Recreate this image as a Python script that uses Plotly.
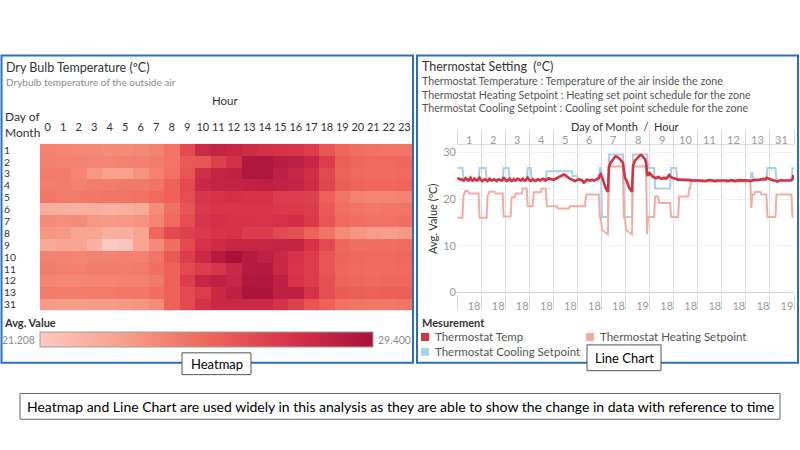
import plotly.graph_objects as go

# ---------------- data ----------------
hours = list(range(24))
hour_labels = [str(h) for h in hours]
days = ['1', '2', '3', '4', '5', '6', '7', '8', '9', '10', '11', '12', '13', '31']

# Dry bulb temperature, rows = day, cols = hour
dry_bulb = [
    [24.3,24.2,24.1,24.1,24.0,24.0,24.1,24.3,24.8,26.4,27.9,28.3,28.1,27.8,27.6,27.5,27.3,27.0,26.0,25.3,25.0,24.9,24.8,24.8],
    [24.4,24.3,24.3,24.2,24.2,24.3,24.4,24.5,24.8,25.8,25.9,26.8,27.6,29.0,29.1,28.7,28.6,28.2,27.0,25.6,25.3,25.2,25.2,25.3],
    [24.6,24.5,24.2,23.6,23.2,23.2,23.7,24.3,24.9,26.0,27.7,28.3,28.4,29.1,29.1,28.5,28.2,27.7,26.5,25.4,25.2,25.1,25.1,25.2],
    [24.5,24.5,24.4,24.5,24.5,24.6,24.6,24.8,25.5,26.5,28.0,28.3,28.3,28.4,28.5,28.4,28.3,27.8,26.6,25.6,25.4,25.3,25.3,25.4],
    [24.7,24.6,24.6,24.7,24.8,24.8,24.9,25.2,25.5,26.3,27.3,27.5,27.6,27.5,27.5,27.0,27.0,26.8,25.5,24.8,24.3,24.2,24.2,24.3],
    [22.6,22.5,22.4,22.5,22.4,22.5,22.8,24.0,25.0,26.0,27.2,27.3,27.3,27.4,27.3,27.2,27.2,27.0,25.8,25.0,24.8,24.7,24.8,24.8],
    [24.0,23.9,24.0,23.6,23.5,23.6,23.7,24.2,25.2,26.3,27.4,27.6,27.5,27.5,27.4,27.5,27.7,27.2,26.0,25.2,25.0,24.9,24.9,25.0],
    [23.6,23.5,23.0,23.0,22.5,22.5,23.0,25.3,26.5,26.8,27.2,27.4,27.5,27.0,27.0,26.5,26.2,25.5,24.8,24.0,23.6,23.4,23.3,23.5],
    [22.8,23.0,23.0,22.4,21.208,21.4,23.0,24.0,25.0,26.5,27.5,27.8,28.2,28.2,28.2,28.3,28.3,27.5,26.5,25.3,25.0,25.0,25.0,25.1],
    [24.3,24.3,24.2,24.3,24.3,24.4,24.4,24.8,25.8,27.0,28.0,28.8,29.4,28.8,28.5,28.0,27.5,27.0,26.0,25.4,25.3,25.2,25.2,25.3],
    [24.5,24.4,24.4,24.5,24.5,24.5,24.6,25.0,25.5,26.5,27.0,27.3,28.0,28.8,28.9,28.0,27.3,27.0,26.0,25.3,25.2,25.1,25.1,25.2],
    [24.2,24.1,24.1,24.2,24.2,24.3,24.3,24.6,25.5,27.0,28.2,28.5,28.2,29.0,29.1,28.5,27.5,27.0,26.2,25.4,25.3,25.2,25.3,25.3],
    [24.6,24.5,24.5,24.6,24.6,24.7,24.7,25.0,25.5,26.5,27.0,28.0,28.5,29.2,29.2,28.5,28.5,27.5,26.3,25.7,25.6,25.5,25.6,25.6],
    [23.4,23.3,23.3,23.4,23.4,23.5,23.6,24.0,25.5,26.5,27.5,28.0,28.0,28.0,28.0,27.5,26.8,26.0,25.5,24.9,24.8,24.7,24.7,24.8],
]
dry_min_label = '21.208'
dry_max_label = '29.400'

# Line chart bottom tick labels (one per day panel)
bottom_labels = ['18', '18', '18', '18', '18', '18', '18', '19', '18', '18', '18', '18', '18', '19']

thermostat_temp = [
    [24.6,24.4,24.3,24.2,24.3,24.1,24.0,24.2,24.5,24.3,24.1,24.0,24.3,24.6,24.2,24.0,24.1,24.4,24.2,24.0,24.1,24.3,24.6,24.2],
    [24.0,23.9,24.1,24.3,24.2,24.0,23.9,24.1,24.4,24.2,24.0,24.1,24.3,24.2,24.0,23.9,24.1,24.3,24.2,24.1,24.0,24.2,24.7,24.3],
    [24.1,23.9,24.0,24.2,24.4,24.1,23.9,24.0,24.3,24.1,24.0,24.2,24.4,24.3,24.1,24.0,24.2,24.4,24.1,24.0,24.1,24.3,24.6,24.2],
    [24.0,23.9,24.1,24.3,24.1,24.0,23.9,24.1,24.3,24.2,24.0,24.1,24.2,24.4,24.3,24.1,24.0,24.2,24.4,24.5,24.4,24.3,24.2,24.2],
    [24.2,24.3,24.4,24.5,24.6,24.7,24.8,24.9,25.0,25.1,25.3,25.2,25.0,24.8,24.6,24.5,24.4,24.3,24.2,24.1,24.0,23.9,24.0,24.1],
    [24.2,24.3,24.2,24.1,24.0,23.9,23.6,23.7,24.0,24.2,24.1,24.0,24.0,24.1,24.2,24.1,24.0,24.1,24.2,24.3,24.4,24.6,25.2,25.4],
    [24.8,24.0,23.3,22.7,22.2,21.9,21.6,27.0,27.8,28.0,28.2,28.5,28.9,29.1,29.2,29.1,29.0,28.8,28.6,28.4,28.2,27.8,26.0,24.5],
    [24.3,23.6,23.0,22.6,22.2,21.9,21.6,27.2,27.8,28.3,28.5,28.8,29.0,29.2,29.4,29.5,29.3,29.0,28.8,28.6,27.8,25.5,25.0,25.8],
    [25.5,25.2,25.0,24.8,24.7,24.6,24.5,24.6,24.8,24.7,24.5,24.4,24.4,24.5,24.6,24.5,24.4,24.6,25.1,25.2,24.9,24.7,24.6,24.5],
    [24.5,24.4,24.3,24.3,24.2,24.2,24.2,24.1,24.1,24.2,24.2,24.1,24.1,24.1,24.2,24.2,24.1,24.1,24.0,24.0,24.0,24.1,24.1,24.1],
    [24.0,24.0,24.1,24.1,24.0,23.9,23.9,23.8,23.9,24.0,24.1,24.1,24.1,24.0,24.0,24.0,23.9,23.9,24.0,24.0,24.1,24.1,24.1,24.0],
    [24.0,24.1,24.1,24.0,24.0,23.9,23.9,24.0,24.0,24.1,24.1,24.0,23.9,23.9,24.0,24.0,24.1,24.1,24.1,24.0,24.0,24.0,24.1,24.1],
    [24.1,24.1,24.0,24.0,23.9,23.9,24.0,24.1,24.1,24.2,24.2,24.1,24.1,24.2,24.2,24.3,24.3,24.2,24.2,24.3,24.6,24.5,24.4,24.4],
    [24.3,24.2,24.1,24.0,24.0,23.9,23.9,23.8,23.9,24.0,24.1,24.1,24.0,24.0,24.0,23.9,23.9,24.0,24.0,24.0,24.1,24.1,24.3,25.2],
]

heating_setpoint = [
    [16.0,16.0,16.0,16.0,16.0,16.0,20.8,21.4,21.8,21.8,21.8,21.6,21.2,21.2,21.2,21.2,21.2,21.2,21.2,21.2,21.2,21.2,16.0,16.0],
    [16.0,16.0,16.0,16.0,16.0,16.0,20.8,21.0,21.6,21.6,21.6,21.6,21.6,21.6,21.2,21.2,21.2,21.2,21.2,21.2,21.2,21.2,16.3,16.3],
    [16.3,16.3,16.3,16.3,16.3,16.3,20.4,20.4,20.4,20.4,21.2,21.2,21.2,21.2,21.2,21.2,21.2,22.3,22.3,22.3,22.3,22.3,18.5,18.5],
    [18.5,18.5,18.5,18.5,21.5,21.5,21.5,21.5,21.5,21.5,21.5,21.5,22.3,22.3,22.3,22.3,22.3,18.5,18.5,18.5,18.5,18.5,18.5,18.5],
    [18.5,18.5,18.5,18.5,18.0,18.0,18.0,18.0,18.0,18.0,18.0,18.0,18.0,18.0,18.0,18.0,18.5,18.5,18.5,18.5,18.5,18.5,18.5,18.5],
    [18.5,18.5,18.5,18.5,18.5,18.5,18.5,18.5,20.6,21.0,21.0,21.0,21.0,21.0,21.0,21.0,21.0,21.0,21.0,21.0,21.0,21.0,16.0,16.0],
    [13.4,13.2,13.0,12.9,12.8,12.6,12.5,27.0,27.0,27.0,27.0,27.0,27.0,27.0,27.0,27.0,27.0,27.0,27.0,27.0,27.0,27.0,16.0,16.0],
    [13.4,13.2,13.0,12.9,12.8,12.6,12.5,27.0,27.0,27.0,27.0,27.0,27.0,27.0,27.0,27.0,27.0,27.0,27.0,27.0,27.0,12.5,16.2,16.2],
    [16.2,16.2,16.2,16.2,16.2,20.6,20.6,20.6,20.6,19.2,19.2,19.2,19.2,19.2,19.2,19.2,19.2,19.2,19.2,19.2,19.2,16.2,16.2,16.2],
    [16.2,16.2,16.2,16.2,16.2,20.6,20.6,20.6,20.6,20.6,20.6,20.6,20.6,20.6,20.6,22.3,22.3,24.0,24.0,24.0,24.0,24.0,24.0,24.0],
    [23.8,23.8,23.8,23.8,23.8,23.8,23.8,23.8,23.8,23.8,23.8,23.8,23.8,23.8,23.8,23.8,23.8,23.8,23.8,23.8,23.8,23.8,23.8,23.8],
    [23.8,23.8,23.8,23.8,23.8,23.8,23.8,23.8,23.8,23.8,23.8,23.8,23.8,23.8,23.8,23.8,23.8,23.8,23.8,23.8,23.8,23.8,23.8,23.8],
    [23.8,23.8,23.8,23.8,23.8,18.1,21.0,21.0,21.0,21.6,21.6,21.6,21.6,21.6,21.6,21.0,21.0,21.0,21.0,21.0,21.0,16.2,16.2,16.2],
    [16.2,16.2,16.2,16.2,16.2,16.2,21.0,21.0,21.0,21.0,21.0,21.0,21.0,21.0,21.0,21.0,21.0,21.0,21.0,21.0,21.0,21.0,16.2,16.2],
]

cooling_setpoint = [
    [26.7,26.7,26.7,26.7,26.7,26.7,24.0,24.0,24.0,24.0,24.0,24.0,24.0,24.0,24.0,24.0,24.0,24.0,24.0,24.0,24.0,24.0,26.7,26.7],
    [26.7,26.7,26.7,26.7,26.7,24.0,24.0,24.0,24.0,24.0,24.0,24.0,24.0,24.0,24.0,24.0,24.0,24.0,24.0,24.0,24.0,24.0,26.7,26.7],
    [26.7,26.7,26.7,26.7,24.0,24.0,24.0,24.0,24.0,24.0,24.0,24.0,24.0,24.0,24.0,24.0,24.0,24.0,24.0,24.0,24.0,24.0,26.7,26.7],
    [26.7,26.7,24.0,24.0,24.0,24.0,24.0,24.0,24.0,24.0,24.0,24.0,24.0,24.0,24.0,24.0,24.0,26.0,26.0,26.0,26.0,26.0,26.0,26.0],
    [26.0,26.0,26.0,26.0,26.0,26.0,26.0,26.0,26.0,26.0,26.0,26.0,26.0,26.0,26.0,26.0,26.0,26.0,26.0,25.0,25.0,25.0,25.0,25.0],
    [24.3,24.3,24.3,24.3,24.3,23.5,23.5,23.5,24.0,24.0,24.0,24.0,24.0,24.0,24.0,24.0,24.0,24.0,24.0,24.0,24.0,24.0,26.7,26.7],
    [16.2,16.2,16.2,16.2,16.2,16.2,16.2,29.6,29.6,29.6,29.6,29.6,29.6,29.6,29.6,29.6,29.6,29.6,29.6,29.6,29.6,29.6,16.2,16.2],
    [16.2,16.2,16.2,16.2,16.2,16.2,16.2,29.6,29.6,29.6,29.6,29.6,29.6,29.6,29.6,29.6,29.6,29.6,29.6,29.6,29.6,29.6,26.7,26.7],
    [26.7,26.7,26.7,26.7,26.7,22.3,22.3,22.3,22.3,22.3,22.3,22.3,22.3,22.3,22.3,22.3,22.3,22.3,22.3,22.3,22.3,26.7,26.7,26.7],
    [26.7,26.7,26.7,24.0,24.0,24.0,24.0,24.0,24.0,24.0,24.0,24.0,24.0,24.0,24.0,24.0,24.0,24.0,24.0,24.0,24.0,24.0,24.0,24.0],
    [23.9,23.9,23.9,23.9,23.9,23.9,23.9,23.9,23.9,23.9,23.9,23.9,23.9,23.9,23.9,23.9,23.9,23.9,23.9,23.9,23.9,23.9,23.9,23.9],
    [23.9,23.9,23.9,23.9,23.9,23.9,23.9,23.9,23.9,23.9,23.9,23.9,23.9,23.9,23.9,23.9,23.9,23.9,23.9,23.9,23.9,23.9,23.9,23.9],
    [24.0,24.0,24.0,24.0,24.0,25.6,25.6,24.0,24.0,24.0,24.0,24.0,24.0,24.0,24.0,24.0,24.0,24.0,24.0,24.0,24.0,26.7,26.7,26.7],
    [26.7,26.7,26.7,26.7,26.7,26.7,24.0,24.0,24.0,24.0,24.0,24.0,24.0,24.0,24.0,24.0,24.0,24.0,24.0,24.0,24.0,24.0,26.7,26.7],
]

series_names = ['Thermostat Temp', 'Thermostat Heating Setpoint', 'Thermostat Cooling Setpoint']
series_colors = ['#d6313e', '#f6aba2', '#a9d0ea']

# ---------------- styling helpers ----------------
W, H = 800, 450
FONT = 'Lato'


def px(x):
    return x / W


def py(y):
    return 1 - y / H


DARK = '#333333'
BLUE = '#2a6fbd'

fig = go.Figure()

# ---------------- heatmap ----------------
fig.add_trace(go.Heatmap(
    z=dry_bulb, x=hours, y=list(range(len(days))),
    zmin=21.208, zmax=29.4,
    colorscale=[[0, '#fcc9bf'], [0.25, '#f8a08b'], [0.5, '#ef665a'],
                [0.75, '#d8344a'], [1, '#a8113b']],
    xaxis='x', yaxis='y',
    colorbar=dict(orientation='h', x=px(40), xanchor='left', y=py(335), yanchor='top',
                  len=333, lenmode='pixels', thickness=15, thicknessmode='pixels',
                  xpad=0, ypad=0, outlinewidth=1, outlinecolor='#a0a0a0',
                  showticklabels=False, ticks=''),
    hoverinfo='skip',
))

# ---------------- line chart ----------------
nd = len(days)
xs = [d * 24 + h + 0.5 for d in range(nd) for h in hours]
series_data = [thermostat_temp, heating_setpoint, cooling_setpoint]
for idx in [2, 1, 0]:
    ys = [v for row in series_data[idx] for v in row]
    fig.add_trace(go.Scatter(
        x=xs, y=ys, mode='lines', name=series_names[idx],
        line=dict(color=series_colors[idx], width=2.6 if idx == 0 else 2.0),
        xaxis='x2', yaxis='y2', showlegend=False, hoverinfo='skip'))

# invisible trace for top header axis
fig.add_trace(go.Scatter(x=[None], y=[None], xaxis='x3', yaxis='y2',
                         showlegend=False, hoverinfo='skip'))

bounds = [d * 24 for d in range(nd + 1)]
centers = [d * 24 + 12 for d in range(nd)]
bottom_ticks = [d * 24 + 17 for d in range(nd)]

fig.update_layout(
    width=W, height=H, margin=dict(l=0, r=0, t=0, b=0),
    paper_bgcolor='white', plot_bgcolor='white',
    font=dict(family=FONT, color=DARK),
    xaxis=dict(domain=[px(40), px(412)], anchor='y', side='top',
               range=[-0.5, 23.5], tickvals=hours, ticktext=hour_labels,
               tickangle=0,
               ticks='outside', ticklen=7, tickcolor='rgba(0,0,0,0)',
               tickfont=dict(size=11, color=DARK, family=FONT),
               showgrid=False, zeroline=False, showline=False, fixedrange=True),
    yaxis=dict(domain=[py(313), py(145)], anchor='x',
               range=[len(days) - 0.5, -0.5], showticklabels=False, ticks='',
               showgrid=False, zeroline=False, showline=False),
    xaxis2=dict(domain=[px(457), px(794)], anchor='y2', range=[0, nd * 24],
                tickvals=bottom_ticks, ticktext=bottom_labels, ticks='', tickangle=0,
                ticklabelstandoff=4,
                tickfont=dict(size=11, color='#9a9a9a', family=FONT),
                showgrid=False, zeroline=False, showline=False,
                minor=dict(tickvals=bounds, ticks='outside', ticklen=15,
                           tickcolor='#d9d9d9', tickwidth=1,
                           showgrid=True, gridcolor='#dcdcdc', gridwidth=1)),
    xaxis3=dict(domain=[px(457), px(794)], anchor='y2', overlaying='x2', side='top',
                range=[0, nd * 24], tickvals=centers, showticklabels=False, ticks='',
                showgrid=False, zeroline=False, showline=True, linecolor='#dddddd',
                linewidth=1,
                minor=dict(tickvals=bounds, ticks='outside', ticklen=14,
                           tickcolor='#d9d9d9', tickwidth=1, showgrid=False)),
    yaxis2=dict(domain=[py(297), py(146)], anchor='x2', range=[-0.43, 31.7],
                tickvals=[0, 10, 20, 30], ticks='',
                tickfont=dict(size=11, color='#9a9a9a', family=FONT),
                showgrid=True, gridcolor='#f1f1f1', zeroline=True,
                zerolinecolor='#cfcfcf', zerolinewidth=1, showline=False),
)

ann = []
shapes = []


def text(x, y, s, size=11, color=DARK, xanchor='left', yanchor='middle', **kw):
    ann.append(dict(x=px(x), y=py(y), xref='paper', yref='paper', text=s,
                    showarrow=False, xanchor=xanchor, yanchor=yanchor,
                    font=dict(size=size, color=color, family=FONT), **kw))


# heatmap day labels (row labels, left aligned)
for i, d in enumerate(days):
    ann.append(dict(x=px(3), y=i, xref='paper', yref='y', text=d, showarrow=False,
                    xanchor='left', yanchor='middle', borderpad=0,
                    font=dict(size=10.3, color=DARK, family=FONT)))

# line chart day-of-month header labels
for c, d in zip(centers, days):
    ann.append(dict(x=c, y=py(140.5), xref='x2', yref='paper', text=d, showarrow=False,
                    xanchor='center', yanchor='middle',
                    font=dict(size=11, color='#9a9a9a', family=FONT)))

# panel borders
shapes.append(dict(type='rect', xref='paper', yref='paper', x0=px(1.5), x1=px(413),
                   y0=py(366), y1=py(56), line=dict(color=BLUE, width=2)))
shapes.append(dict(type='rect', xref='paper', yref='paper', x0=px(417), x1=px(798),
                   y0=py(366), y1=py(56), line=dict(color=BLUE, width=2)))

# left panel texts
text(4, 68, 'Dry Bulb Temperature (ºC)', size=12.5, color=DARK)
text(4, 83, 'Drybulb temperature of the outside air', size=10, color='#8c8c8c')
text(226, 101, 'Hour', size=11.5, color=DARK, xanchor='center')
text(3, 126, 'Day of<br>Month', size=12, color=DARK, align='left')
text(2, 325, '<b>Avg. Value</b>', size=11, color=DARK)
text(37, 343, dry_min_label, size=10.5, color='#8c8c8c', xanchor='right')
text(376, 343, dry_max_label, size=10.5, color='#8c8c8c', xanchor='left')

# right panel texts
text(420, 67, 'Thermostat Setting  (ºC)', size=12.5, color=DARK)
text(420, 81.5, 'Thermostat Temperature : Temperature of the air inside the zone', size=10.7, color='#555555')
text(420, 95, 'Thermostat Heating Setpoint : Heating set point schedule for the zone', size=10.7, color='#555555')
text(420, 108.5, 'Thermostat Cooling Setpoint : Cooling set point schedule for the zone', size=10.7, color='#555555')
text(625, 128, 'Day of Month  /  Hour', size=11, color=DARK, xanchor='center')
text(432, 221, 'Avg. Value (ºC)', size=11, color=DARK, xanchor='center', textangle=-90)

# legend (manual)
text(420, 325, '<b>Mesurement</b>', size=11, color=DARK)
leg_pos = [(421, 340), (586, 340), (421, 355)]
for (lx, ly), name, col in zip(leg_pos, series_names, series_colors):
    shapes.append(dict(type='rect', xref='paper', yref='paper', x0=px(lx), x1=px(lx + 8),
                       y0=py(ly + 4), y1=py(ly - 4), line=dict(width=0), fillcolor=col))
    text(lx + 12, ly, name, size=11.5, color='#555555')

# labelled boxes
shapes.append(dict(type='rect', xref='paper', yref='paper', x0=px(182), x1=px(251),
                   y0=py(378), y1=py(356), line=dict(color='#555555', width=1), fillcolor='white'))
text(216.5, 367, 'Heatmap', size=13, color='black', xanchor='center')
shapes.append(dict(type='rect', xref='paper', yref='paper', x0=px(587), x1=px(661),
                   y0=py(374), y1=py(348), line=dict(color='#555555', width=1), fillcolor='white'))
text(624, 361, 'Line Chart', size=13, color='black', xanchor='center')

# caption
shapes.append(dict(type='rect', xref='paper', yref='paper', x0=px(20), x1=px(780),
                   y0=py(423), y1=py(397), line=dict(color='#666666', width=1)))
text(400, 410, 'Heatmap and Line Chart are used widely in this analysis as they are able to show the change in data with reference to time',
     size=14, color='black', xanchor='center')

fig.update_layout(annotations=ann, shapes=shapes)

fig.write_html('out.html', config={'displayModeBar': False},
               post_script="document.body.style.margin='0';")
